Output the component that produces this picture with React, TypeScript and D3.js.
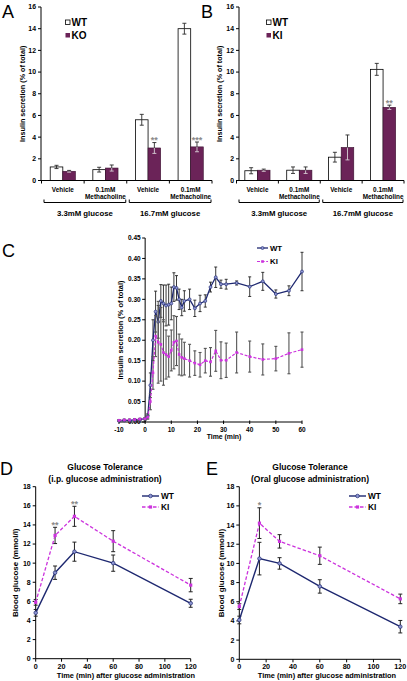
import React from "react";
import * as d3 from "d3";

const FONT = "'Liberation Sans', Arial, Helvetica, sans-serif";
const PURPLE = "#6B2358";
const NAVY = "#1E2870";
const NAVY_FILL = "#8E96D2";
const MAGENTA = "#CC33DD";
const STAR = "#8a8a8a";
const ERR = "#2a2a2a";

// ---------- Panels A & B (bar charts) ----------
const barCategories = [["Vehicle"], ["0.1mM", "Methacholine"], ["Vehicle"], ["0.1mM", "Methacholine"]];
const glucoseGroups = ["3.3mM glucose", "16.7mM glucose"];
const barTicks = [0, 2, 4, 6, 8, 10, 12, 14, 16];

const aWT = [1.25, 1.0, 5.6, 14.0];
const aWTErr = [0.15, 0.22, 0.5, 0.5];
const aKO = [0.85, 1.15, 3.0, 3.1];
const aKOErr = [0.08, 0.28, 0.5, 0.45];
const aStars = ["", "", "**", "***"];

const bWT = [0.9, 0.95, 2.15, 10.25];
const bWTErr = [0.28, 0.3, 0.45, 0.55];
const bKI = [0.95, 0.95, 3.05, 6.75];
const bKIErr = [0.1, 0.3, 1.15, 0.2];
const bStars = ["", "", "", "**"];

// ---------- Panel C (perifusion time course) ----------
const cTime = [-10, -8, -6, -4, -2, 0, 1, 2, 3, 4, 5, 6, 7, 8, 9, 10, 11, 12, 13, 14, 15, 17, 19, 21, 23, 25, 27, 29, 31, 35, 40, 45, 50, 55, 60];
const cWT = [0.003, 0.004, 0.004, 0.005, 0.006, 0.008, 0.015, 0.09, 0.2, 0.27, 0.245, 0.296, 0.29, 0.285, 0.287, 0.29, 0.33, 0.328, 0.3, 0.28, 0.296, 0.3, 0.278, 0.29, 0.296, 0.33, 0.354, 0.337, 0.337, 0.34, 0.331, 0.344, 0.313, 0.321, 0.368];
const cWTErr = [0.002, 0.002, 0.002, 0.002, 0.002, 0.003, 0.005, 0.03, 0.05, 0.05, 0.04, 0.04, 0.045, 0.05, 0.05, 0.04, 0.035, 0.03, 0.025, 0.02, 0.025, 0.025, 0.02, 0.02, 0.015, 0.012, 0.025, 0.01, 0.012, 0.005, 0.024, 0.022, 0.01, 0.012, 0.047];
const cKI = [0.004, 0.005, 0.005, 0.006, 0.007, 0.008, 0.012, 0.05, 0.12, 0.21, 0.195, 0.19, 0.17, 0.165, 0.16, 0.175, 0.195, 0.198, 0.165, 0.158, 0.155, 0.15, 0.144, 0.14, 0.15, 0.147, 0.174, 0.151, 0.151, 0.17, 0.16, 0.153, 0.155, 0.168, 0.177];
const cKIErr = [0.002, 0.002, 0.002, 0.002, 0.002, 0.003, 0.005, 0.02, 0.04, 0.05, 0.1, 0.09, 0.08, 0.06, 0.05, 0.05, 0.065, 0.06, 0.05, 0.045, 0.04, 0.04, 0.03, 0.03, 0.03, 0.035, 0.05, 0.045, 0.042, 0.05, 0.038, 0.038, 0.03, 0.05, 0.043];
const cYTicks = [0, 0.05, 0.1, 0.15, 0.2, 0.25, 0.3, 0.35, 0.4, 0.45];
const cXTicks = [-10, 0, 10, 20, 30, 40, 50, 60];

// ---------- Panels D & E (glucose tolerance) ----------
const gttTime = [0, 15, 30, 60, 120];
const gttXTicks = [0, 20, 40, 60, 80, 100, 120];
const gttYTicks = [0, 2, 4, 6, 8, 10, 12, 14, 16, 18];
const dWT = [4.8, 9.0, 11.2, 10.0, 5.8];
const dWTErr = [0.35, 0.7, 1.0, 0.85, 0.42];
const dKI = [5.9, 12.9, 14.9, 12.3, 7.7];
const dKIErr = [0.3, 0.85, 1.05, 1.1, 0.7];
const dStars = ["", "**", "**", "", ""];
const eWT = [4.1, 10.5, 10.0, 7.6, 3.4];
const eWTErr = [0.4, 1.7, 0.6, 0.7, 0.65];
const eKI = [5.5, 14.2, 12.3, 10.8, 6.3];
const eKIErr = [0.3, 1.6, 0.7, 0.9, 0.5];
const eStars = ["", "*", "", "", ""];

function ErrBar({ x, y0, y1, cap, color = ERR, sw = 0.9 }: any) {
  return (
    <g stroke={color} strokeWidth={sw}>
      <line x1={x} x2={x} y1={y0} y2={y1} />
      <line x1={x - cap} x2={x + cap} y1={y0} y2={y0} />
      <line x1={x - cap} x2={x + cap} y1={y1} y2={y1} />
    </g>
  );
}

function BarPanel({ letter, letterX, axisX, x0, x1, wt, wtErr, mut, mutErr, stars, mutName, legendX, yLabelX }: any) {
  const y = d3.scaleLinear().domain([0, 16]).range([180.5, 7]);
  const band = d3.scaleBand<number>().domain(d3.range(4)).range([x0, x1]);
  const bw = band.bandwidth();
  const inner = d3.scaleBand<string>().domain(["WT", "MUT"]).range([-12.6, 12.6]);
  const iw = inner.bandwidth();
  const y0 = y(0);
  return (
    <g fontFamily={FONT} fontWeight="bold">
      <text x={letterX} y={18} fontSize={18} fontWeight="normal">{letter}</text>
      {/* y axis */}
      <line x1={axisX} x2={axisX} y1={y(16)} y2={y0} stroke="#000" strokeWidth={1} />
      {barTicks.map((t) => (
        <g key={t}>
          <line x1={axisX - 3} x2={axisX} y1={y(t)} y2={y(t)} stroke="#000" strokeWidth={1} />
          <text x={axisX - 5} y={y(t)} dy="0.35em" fontSize={6.9} textAnchor="end">{t}</text>
        </g>
      ))}
      <text transform={`translate(${yLabelX},${y(8)}) rotate(-90)`} fontSize={7.2} textAnchor="middle">Insulin secretion (% of total)</text>
      {/* bars */}
      {wt.map((v: number, i: number) => {
        const c = (band(i) as number) + bw / 2;
        const xw = c + (inner("WT") as number);
        const xm = c + (inner("MUT") as number);
        const mx = xm + iw / 2;
        return (
          <g key={i}>
            <rect x={xw} y={y(v)} width={iw} height={y0 - y(v)} fill="#fff" stroke="#000" strokeWidth={0.8} />
            <rect x={xm} y={y(mut[i])} width={iw} height={y0 - y(mut[i])} fill={PURPLE} stroke="#3a1030" strokeWidth={0.6} />
            <ErrBar x={xw + iw / 2} y0={y(v - wtErr[i])} y1={y(v + wtErr[i])} cap={2} />
            {/* lower half inside the dark bar shows light, upper half dark */}
            <g stroke="#d8d0d6" strokeWidth={0.9}>
              <line x1={mx} x2={mx} y1={y(mut[i] - mutErr[i])} y2={y(mut[i])} />
              <line x1={mx - 2} x2={mx + 2} y1={y(mut[i] - mutErr[i])} y2={y(mut[i] - mutErr[i])} />
            </g>
            <g stroke={ERR} strokeWidth={0.9}>
              <line x1={mx} x2={mx} y1={y(mut[i])} y2={y(mut[i] + mutErr[i])} />
              <line x1={mx - 2} x2={mx + 2} y1={y(mut[i] + mutErr[i])} y2={y(mut[i] + mutErr[i])} />
            </g>
            {stars[i] && (
              <text x={mx} y={y(mut[i] + mutErr[i]) + 0.5} fontSize={9} fill={STAR} textAnchor="middle">{stars[i]}</text>
            )}
          </g>
        );
      })}
      {/* x axis */}
      <line x1={axisX} x2={x1} y1={y0} y2={y0} stroke="#000" strokeWidth={1} />
      {d3.range(5).map((i) => {
        const bx = i < 4 ? (band(i) as number) : x1;
        return <line key={i} x1={bx} x2={bx} y1={y0} y2={y0 + 3} stroke="#000" strokeWidth={1} />;
      })}
      {barCategories.map((lines, i) => (
        <text key={i} x={(band(i) as number) + bw / 2} y={192} fontSize={6.4} textAnchor="middle">
          {lines.map((l, j) => (
            <tspan key={j} x={(band(i) as number) + bw / 2} dy={j === 0 ? 0 : 7}>{l}</tspan>
          ))}
        </text>
      ))}
      {glucoseGroups.map((g, k) => {
        const bx0 = (band(k * 2) as number) + 2.5;
        const bx1 = (band(k * 2 + 1) as number) + bw - 1;
        return (
          <g key={g}>
            <path d={`M${bx0},${199.5}V${202.5}H${bx1}V${199.5}`} fill="none" stroke="#000" strokeWidth={1} />
            <text x={(bx0 + bx1) / 2} y={215.5} fontSize={7.8} textAnchor="middle">{g}</text>
          </g>
        );
      })}
      {/* legend */}
      <rect x={legendX} y={20} width={4.5} height={4.5} fill="#fff" stroke="#000" strokeWidth={0.8} />
      <text x={legendX + 6} y={25.8} fontSize={10}>WT</text>
      <rect x={legendX} y={33} width={4.5} height={4.5} fill={PURPLE} />
      <text x={legendX + 6} y={38.8} fontSize={10}>{mutName}</text>
    </g>
  );
}

function PanelC() {
  const x = d3.scaleLinear().domain([-10, 60]).range([119, 302]);
  const y = d3.scaleLinear().domain([0, 0.45]).range([422, 238]);
  const line = d3.line<number>().x((_, i) => x(cTime[i])).y((v) => y(v));
  return (
    <g fontFamily={FONT} fontWeight="bold">
      <text x={2} y={257} fontSize={18} fontWeight="normal">C</text>
      <line x1={x(0)} x2={x(0)} y1={y(0.45)} y2={y(0)} stroke="#000" strokeWidth={1} />
      {cYTicks.map((t) => (
        <g key={t}>
          <line x1={x(0) - 3} x2={x(0)} y1={y(t)} y2={y(t)} stroke="#000" />
          <text x={x(0) - 4.5} y={y(t)} dy="0.35em" fontSize={6.5} textAnchor="end">{t.toFixed(2)}</text>
        </g>
      ))}
      <line x1={x(-10)} x2={x(60)} y1={y(0)} y2={y(0)} stroke="#000" strokeWidth={1} />
      {cXTicks.map((t) => (
        <g key={t}>
          <line x1={x(t)} x2={x(t)} y1={y(0) - 1.5} y2={y(0) + 2} stroke="#000" />
          <text x={x(t)} y={432} fontSize={6.5} textAnchor="middle">{t}</text>
        </g>
      ))}
      <text x={224} y={439} fontSize={6.9} textAnchor="middle">Time (min)</text>
      <text transform={`translate(${123},${y(0.225)}) rotate(-90)`} fontSize={7.4} textAnchor="middle">Insulin secretion (% of total)</text>
      {/* WT */}
      {cWT.map((v, i) => (
        <ErrBar key={"we" + i} x={x(cTime[i])} y0={y(v - cWTErr[i])} y1={y(v + cWTErr[i])} cap={1.5} color="#222" sw={0.9} />
      ))}
      <path d={line(cWT) as string} fill="none" stroke={NAVY} strokeWidth={1.3} />
      {cWT.map((v, i) => (
        <circle key={"wm" + i} cx={x(cTime[i])} cy={y(v)} r={1.5} fill={NAVY_FILL} stroke={NAVY} strokeWidth={0.6} />
      ))}
      {/* KI */}
      {cKI.map((v, i) => (
        <ErrBar key={"ke" + i} x={x(cTime[i])} y0={y(v - cKIErr[i])} y1={y(v + cKIErr[i])} cap={1.5} color="#555" sw={1.1} />
      ))}
      <path d={line(cKI) as string} fill="none" stroke={MAGENTA} strokeWidth={1.2} strokeDasharray="3,1.6" />
      {cKI.map((v, i) => (
        <rect key={"km" + i} x={x(cTime[i]) - 1.3} y={y(v) - 1.3} width={2.6} height={2.6} fill={MAGENTA} />
      ))}
      {/* legend */}
      <line x1={257} x2={268} y1={248} y2={248} stroke={NAVY} strokeWidth={1.3} />
      <circle cx={262.5} cy={248} r={1.5} fill={NAVY_FILL} stroke={NAVY} strokeWidth={0.6} />
      <text x={270} y={250.8} fontSize={7.8}>WT</text>
      <line x1={257} x2={268} y1={261.5} y2={261.5} stroke={MAGENTA} strokeWidth={1.2} strokeDasharray="3,1.6" />
      <rect x={261.2} y={260.2} width={2.6} height={2.6} fill={MAGENTA} />
      <text x={270} y={264.3} fontSize={7.8}>KI</text>
    </g>
  );
}

function GttPanel({ letter, letterX, x0, x1, yBottom, wt, wtErr, ki, kiErr, stars, title2, titleX, xLabelX, yLabelX, legendX }: any) {
  const x = d3.scaleLinear().domain([0, 120]).range([x0, x1]);
  const y = d3.scaleLinear().domain([0, 18]).range([yBottom, 486.7]);
  const line = d3.line<number>().x((_, i) => x(gttTime[i])).y((v) => y(v));
  return (
    <g fontFamily={FONT} fontWeight="bold">
      <text x={letterX} y={475} fontSize={18} fontWeight="normal">{letter}</text>
      <text x={titleX} y={469.5} fontSize={8.5} textAnchor="middle">Glucose Tolerance</text>
      <text x={titleX} y={481.5} fontSize={8.5} textAnchor="middle">{title2}</text>
      <line x1={x0} x2={x0} y1={y(18)} y2={y(0)} stroke="#000" />
      {gttYTicks.map((t) => (
        <g key={t}>
          <line x1={x0 - 3} x2={x0} y1={y(t)} y2={y(t)} stroke="#000" />
          <text x={x0 - 5} y={y(t)} dy="0.35em" fontSize={7} textAnchor="end">{t}</text>
        </g>
      ))}
      <line x1={x0} x2={x1} y1={y(0)} y2={y(0)} stroke="#000" />
      {gttXTicks.map((t) => (
        <g key={t}>
          <line x1={x(t)} x2={x(t)} y1={y(0)} y2={y(0) + 3} stroke="#000" />
          <text x={x(t)} y={669} fontSize={7.2} textAnchor="middle">{t}</text>
        </g>
      ))}
      <text x={xLabelX} y={678} fontSize={7.4} textAnchor="middle">Time (min) after glucose administration</text>
      <text transform={`translate(${yLabelX},${y(9)}) rotate(-90)`} fontSize={8} textAnchor="middle">Blood glucose (mmol/l)</text>
      {wt.map((v: number, i: number) => (
        <ErrBar key={"we" + i} x={x(gttTime[i])} y0={y(v - wtErr[i])} y1={y(v + wtErr[i])} cap={2} color="#222" sw={1} />
      ))}
      <path d={line(wt) as string} fill="none" stroke={NAVY} strokeWidth={1.4} />
      {wt.map((v: number, i: number) => (
        <circle key={"wm" + i} cx={x(gttTime[i])} cy={y(v)} r={1.8} fill={NAVY_FILL} stroke={NAVY} strokeWidth={0.7} />
      ))}
      {ki.map((v: number, i: number) => (
        <ErrBar key={"ke" + i} x={x(gttTime[i])} y0={y(v - kiErr[i])} y1={y(v + kiErr[i])} cap={2} color="#222" sw={1} />
      ))}
      <path d={line(ki) as string} fill="none" stroke={MAGENTA} strokeWidth={1.3} strokeDasharray="3.5,2" />
      {ki.map((v: number, i: number) => (
        <rect key={"km" + i} x={x(gttTime[i]) - 1.6} y={y(v) - 1.6} width={3.2} height={3.2} fill={MAGENTA} />
      ))}
      {stars.map((s: string, i: number) =>
        s ? (
          <text key={"s" + i} x={x(gttTime[i])} y={y(ki[i] + kiErr[i]) + 0.5} fontSize={9} fill={STAR} textAnchor="middle">{s}</text>
        ) : null
      )}
      <line x1={legendX} x2={legendX + 17} y1={496} y2={496} stroke={NAVY} strokeWidth={1.4} />
      <circle cx={legendX + 8.5} cy={496} r={1.8} fill={NAVY_FILL} stroke={NAVY} strokeWidth={0.7} />
      <text x={legendX + 19} y={499} fontSize={8.3}>WT</text>
      <line x1={legendX} x2={legendX + 17} y1={507} y2={507} stroke={MAGENTA} strokeWidth={1.3} strokeDasharray="3.5,2" />
      <rect x={legendX + 6.9} y={505.4} width={3.2} height={3.2} fill={MAGENTA} />
      <text x={legendX + 19} y={510} fontSize={8.3}>KI</text>
    </g>
  );
}

export default function App() {
  return (
    <svg width={407} height={681} style={{ position: "absolute", left: 0, top: 0, background: "#fff" }}>
      <rect width={407} height={681} fill="#fff" />
      <BarPanel letter="A" letterX={2} axisX={41} x0={41.5} x1={212} wt={aWT} wtErr={aWTErr} mut={aKO} mutErr={aKOErr} stars={aStars} mutName="KO" legendX={65.5} yLabelX={25} />
      <BarPanel letter="B" letterX={201} axisX={239} x0={236.5} x1={404} wt={bWT} wtErr={bWTErr} mut={bKI} mutErr={bKIErr} stars={bStars} mutName="KI" legendX={266.5} yLabelX={222} />
      <PanelC />
      <GttPanel letter="D" letterX={0} x0={35.7} x1={190.7} yBottom={658.7} wt={dWT} wtErr={dWTErr} ki={dKI} kiErr={dKIErr} stars={dStars} title2="(i.p. glucose administration)" titleX={105} xLabelX={126} yLabelX={18} legendX={142} />
      <GttPanel letter="E" letterX={206} x0={239.3} x1={400.3} yBottom={659.3} wt={eWT} wtErr={eWTErr} ki={eKI} kiErr={eKIErr} stars={eStars} title2="(Oral glucose administration)" titleX={310} xLabelX={327} yLabelX={224} legendX={349} />
    </svg>
  );
}
